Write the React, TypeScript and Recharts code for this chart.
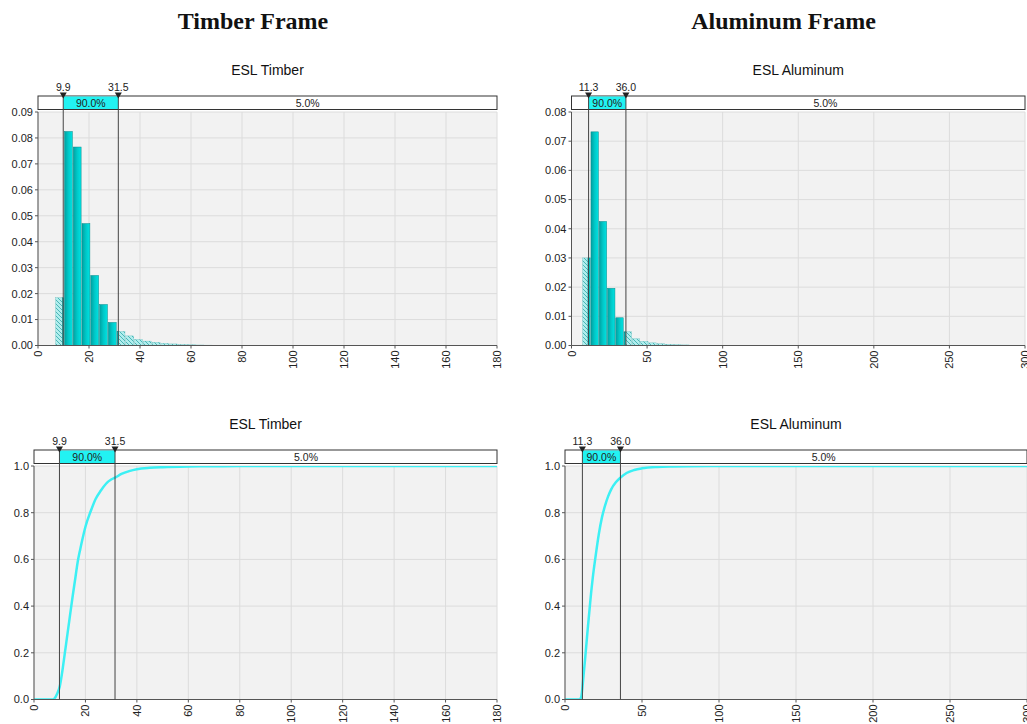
import React from 'react';
import { ComposedChart, Bar, Line, XAxis, YAxis, CartesianGrid, ReferenceArea } from 'recharts';

// ---------- data ----------
const timberBinLow = [6.93, 10.37, 13.81, 17.25, 20.69, 24.13, 27.57, 31.01, 34.45, 37.89, 41.33, 44.77, 48.21, 51.65, 55.09, 58.53, 61.97, 65.41, 68.85];
const timberBinWidth = 3.44;
const timberDensity = [0.0184, 0.0825, 0.0765, 0.047, 0.027, 0.0158, 0.0089, 0.0054, 0.0037, 0.0023, 0.0017, 0.0012, 0.0008, 0.0006, 0.0004, 0.0003, 0.0002, 0.00015, 0.0001];
const timberLow = 9.9;
const timberHigh = 31.5;
const timberCdfX = [0, 7, 8, 9, 10, 11, 12, 13, 14, 15, 16, 17, 18, 19, 20, 22, 24, 26, 28, 30, 31.5, 34, 37, 40, 45, 50, 60, 70, 80, 180];
const timberCdfY = [0, 0, 0.005, 0.025, 0.055, 0.12, 0.2, 0.28, 0.36, 0.44, 0.515, 0.59, 0.645, 0.695, 0.74, 0.805, 0.86, 0.895, 0.924, 0.942, 0.95, 0.966, 0.978, 0.986, 0.992, 0.995, 0.998, 0.999, 1.0, 1.0];
const timberXTicks = [0, 20, 40, 60, 80, 100, 120, 140, 160, 180];
const timberHistYTicks = [0, 0.01, 0.02, 0.03, 0.04, 0.05, 0.06, 0.07, 0.08, 0.09];

const aluminumBinLow = [7.4, 12.87, 18.34, 23.81, 29.28, 34.75, 40.22, 45.69, 51.16, 56.63, 62.1, 67.57, 73.04];
const aluminumBinWidth = 5.47;
const aluminumDensity = [0.030, 0.0732, 0.0425, 0.0196, 0.0095, 0.0047, 0.0023, 0.0014, 0.0009, 0.0006, 0.0004, 0.0003, 0.0002];
const aluminumLow = 11.3;
const aluminumHigh = 36.0;
const aluminumCdfX = [0, 9.5, 10.5, 11.3, 12, 13, 14, 15, 16, 17, 18, 20, 22, 24, 26, 28, 30, 33, 36, 40, 45, 50, 60, 70, 80, 100, 300];
const aluminumCdfY = [0, 0, 0.01, 0.05, 0.1, 0.17, 0.245, 0.32, 0.39, 0.46, 0.52, 0.62, 0.71, 0.78, 0.83, 0.87, 0.9, 0.93, 0.95, 0.97, 0.983, 0.99, 0.996, 0.998, 0.999, 1.0, 1.0];
const aluminumXTicks = [0, 50, 100, 150, 200, 250, 300];
const aluminumHistYTicks = [0, 0.01, 0.02, 0.03, 0.04, 0.05, 0.06, 0.07, 0.08];

const cdfYTicks = [0, 0.2, 0.4, 0.6, 0.8, 1.0];
const insideLabel = '90.0%';
const outsideLabel = '5.0%';
const chartTitles = ['ESL Timber', 'ESL Aluminum'];
const sectionTitles = ['Timber Frame', 'Aluminum Frame'];

// ---------- helpers ----------
const CYAN = '#22f2f2';
const AXIS = '#555';
const FONT = '"Liberation Sans", Arial, sans-serif';

const clamp01 = (v: number) => Math.max(0, Math.min(1, v));

const makeBarShape = (lo: number, hi: number, w: number) => (props: any) => {
  const { x, y, width, height, payload } = props;
  if (!height || height <= 0) return <g />;
  const a = clamp01((lo - payload.low) / w);
  const b = clamp01((hi - payload.low) / w);
  const xa = x + a * width;
  const xb = x + b * width;
  return (
    <g>
      {a > 0 && <rect x={x} y={y} width={xa - x} height={height} fill="url(#hatch)" stroke="#4ab4b4" strokeWidth={0.3} />}
      {b > a && <rect x={xa} y={y} width={xb - xa} height={height} fill="url(#barGrad)" stroke="#0a8c8c" strokeWidth={0.5} />}
      {b < 1 && <rect x={xb} y={y} width={x + width - xb} height={height} fill="url(#hatch)" stroke="#4ab4b4" strokeWidth={0.3} />}
    </g>
  );
};

const XTick = (props: any) => {
  const { x, y, payload } = props;
  return (
    <text x={x} y={y} dy={4} transform={`rotate(-90 ${x} ${y})`} textAnchor="end" fontSize={11} fill="#222" fontFamily={FONT}>
      {payload.value}
    </text>
  );
};

const BOX_TOP = 16;
const BOX_BOTTOM = 2.5;

const OuterBoxShape = (props: any) => {
  const { x, y, width } = props;
  return <rect x={x} y={y - BOX_TOP} width={width} height={BOX_TOP - BOX_BOTTOM} fill="#fff" stroke="#333" strokeWidth={1} />;
};

const makeInnerShape = (loText: string, hiText: string) => (props: any) => {
  const { x, y, width, height } = props;
  const bt = y - BOX_TOP;
  const bb = y - BOX_BOTTOM;
  const tri = (cx: number) => `M${cx - 3.5},${bt - 3.5} L${cx + 3.5},${bt - 3.5} L${cx},${bt + 2.5} Z`;
  return (
    <g>
      <rect x={x} y={bt + 0.5} width={width} height={bb - bt - 1} fill={CYAN} />
      <text x={x + width / 2} y={bb - 2.5} textAnchor="middle" fontSize={10.5} fill="#222" fontFamily={FONT}>{insideLabel}</text>
      <line x1={x} y1={bt} x2={x} y2={y + height} stroke="#444" strokeWidth={1} />
      <line x1={x + width} y1={bt} x2={x + width} y2={y + height} stroke="#444" strokeWidth={1} />
      <path d={tri(x)} fill="#222" />
      <path d={tri(x + width)} fill="#222" />
      <text x={x} y={bt - 5.5} textAnchor="middle" fontSize={10.5} fill="#222" fontFamily={FONT}>{loText}</text>
      <text x={x + width} y={bt - 5.5} textAnchor="middle" fontSize={10.5} fill="#222" fontFamily={FONT}>{hiText}</text>
    </g>
  );
};

const RightLabelShape = (props: any) => {
  const { x, y, width } = props;
  return (
    <text x={x + width / 2} y={y - BOX_BOTTOM - 2.5} textAnchor="middle" fontSize={10.5} fill="#222" fontFamily={FONT}>
      {outsideLabel}
    </text>
  );
};

type PanelProps = {
  plotLeft: number; plotTop: number; plotRight: number; plotBottom: number; chartLeft: number;
  xMax: number; xTicks: number[]; yMax: number; yTicks: number[]; yDigits: number;
  lo: number; hi: number; loText: string; hiText: string; title: string;
  bins?: { x: number; low: number; y: number }[]; binWidth?: number;
  cdf?: { x: number; y: number }[];
};

const Panel = (p: PanelProps) => {
  const marginTop = 40;
  const chartTop = p.plotTop - marginTop;
  const yAxisWidth = p.plotLeft - p.chartLeft;
  const marginRight = 12;
  const xAxisHeight = 30;
  const width = p.plotRight - p.chartLeft + marginRight;
  const height = p.plotBottom - chartTop + xAxisHeight;
  const plotWidth = p.plotRight - p.plotLeft;
  const data = p.bins ?? p.cdf ?? [];
  const barSize = p.binWidth ? (p.binWidth / p.xMax) * plotWidth : undefined;
  return (
    <>
      <div style={{ position: 'absolute', left: p.plotLeft, top: p.plotTop - 50, width: plotWidth, textAlign: 'center', fontFamily: FONT, fontSize: 14, color: '#111', lineHeight: '16px' }}>
        {p.title}
      </div>
      <div style={{ position: 'absolute', left: p.chartLeft, top: chartTop, fontFamily: FONT }}>
        <ComposedChart width={width} height={height} data={data} margin={{ top: marginTop, right: marginRight, bottom: 0, left: 0 }} barCategoryGap={0} barGap={0}>
          <CartesianGrid stroke="#dcdcdc" fill="#f2f2f2" fillOpacity={1} />
          <XAxis dataKey="x" type="number" domain={[0, p.xMax]} ticks={p.xTicks} allowDataOverflow interval={0}
            height={xAxisHeight} tick={<XTick />} tickSize={3} tickMargin={2}
            axisLine={{ stroke: AXIS }} tickLine={{ stroke: AXIS }} />
          <YAxis type="number" domain={[0, p.yMax]} ticks={p.yTicks} allowDataOverflow interval={0} width={yAxisWidth}
            tickFormatter={(v: number) => v.toFixed(p.yDigits)} tick={{ fontSize: 11, fill: '#222', fontFamily: FONT }}
            tickSize={3} tickMargin={2} axisLine={{ stroke: AXIS }} tickLine={{ stroke: AXIS }} />
          {p.bins && (
            <Bar dataKey="y" isAnimationActive={false} barSize={barSize} shape={makeBarShape(p.lo, p.hi, p.binWidth as number)} />
          )}
          {p.cdf && (
            <Line dataKey="y" type="monotone" dot={false} stroke="#3cf0f4" strokeWidth={2.5} isAnimationActive={false} />
          )}
          <ReferenceArea x1={0} x2={p.xMax} ifOverflow="visible" shape={OuterBoxShape} zIndex={1000} />
          <ReferenceArea x1={p.hi} x2={p.xMax} ifOverflow="visible" shape={RightLabelShape} zIndex={1000} />
          <ReferenceArea x1={p.lo} x2={p.hi} ifOverflow="visible" shape={makeInnerShape(p.loText, p.hiText)} zIndex={1000} />
        </ComposedChart>
      </div>
    </>
  );
};

const makeBins = (lows: number[], w: number, dens: number[]) => lows.map((l, i) => ({ x: l + w / 2, low: l, y: dens[i] }));
const makeCdf = (xs: number[], ys: number[]) => xs.map((x, i) => ({ x, y: ys[i] }));

export default function App() {
  return (
    <div style={{ position: 'absolute', left: 0, top: 0, width: 1027, height: 724, overflow: 'hidden', background: '#fff' }}>
      <svg width={0} height={0} style={{ position: 'absolute' }}>
        <defs>
          <linearGradient id="barGrad" x1="0" y1="0" x2="1" y2="0">
            <stop offset="0%" stopColor="#00a0a0" />
            <stop offset="50%" stopColor="#00c8c8" />
            <stop offset="100%" stopColor="#00e2e2" />
          </linearGradient>
          <pattern id="hatch" patternUnits="userSpaceOnUse" width={4} height={4}>
            <rect width={4} height={4} fill="#b0eded" />
            <path d="M0,0 L4,4 M-1,3 L1,5 M3,-1 L5,1" stroke="#3fb0b0" strokeWidth={0.9} />
          </pattern>
        </defs>
      </svg>
      <div style={{ position: 'absolute', left: 0, top: 8, width: 506, textAlign: 'center', fontFamily: '"Liberation Serif", serif', fontWeight: 'bold', fontSize: 24, color: '#111' }}>
        {sectionTitles[0]}
      </div>
      <div style={{ position: 'absolute', left: 530, top: 8, width: 507, textAlign: 'center', fontFamily: '"Liberation Serif", serif', fontWeight: 'bold', fontSize: 24, color: '#111' }}>
        {sectionTitles[1]}
      </div>
      <Panel plotLeft={38} plotTop={111.5} plotRight={497} plotBottom={345} chartLeft={0}
        xMax={180} xTicks={timberXTicks} yMax={0.09} yTicks={timberHistYTicks} yDigits={2}
        lo={timberLow} hi={timberHigh} loText="9.9" hiText="31.5" title={chartTitles[0]}
        bins={makeBins(timberBinLow, timberBinWidth, timberDensity)} binWidth={timberBinWidth} />
      <Panel plotLeft={571.5} plotTop={111.5} plotRight={1025} plotBottom={345} chartLeft={530}
        xMax={300} xTicks={aluminumXTicks} yMax={0.08} yTicks={aluminumHistYTicks} yDigits={2}
        lo={aluminumLow} hi={aluminumHigh} loText="11.3" hiText="36.0" title={chartTitles[1]}
        bins={makeBins(aluminumBinLow, aluminumBinWidth, aluminumDensity)} binWidth={aluminumBinWidth} />
      <Panel plotLeft={34} plotTop={465.5} plotRight={497} plotBottom={699} chartLeft={0}
        xMax={180} xTicks={timberXTicks} yMax={1} yTicks={cdfYTicks} yDigits={1}
        lo={timberLow} hi={timberHigh} loText="9.9" hiText="31.5" title={chartTitles[0]}
        cdf={makeCdf(timberCdfX, timberCdfY)} />
      <Panel plotLeft={565} plotTop={465.5} plotRight={1027} plotBottom={699} chartLeft={530}
        xMax={300} xTicks={aluminumXTicks} yMax={1} yTicks={cdfYTicks} yDigits={1}
        lo={aluminumLow} hi={aluminumHigh} loText="11.3" hiText="36.0" title={chartTitles[1]}
        cdf={makeCdf(aluminumCdfX, aluminumCdfY)} />
    </div>
  );
}
